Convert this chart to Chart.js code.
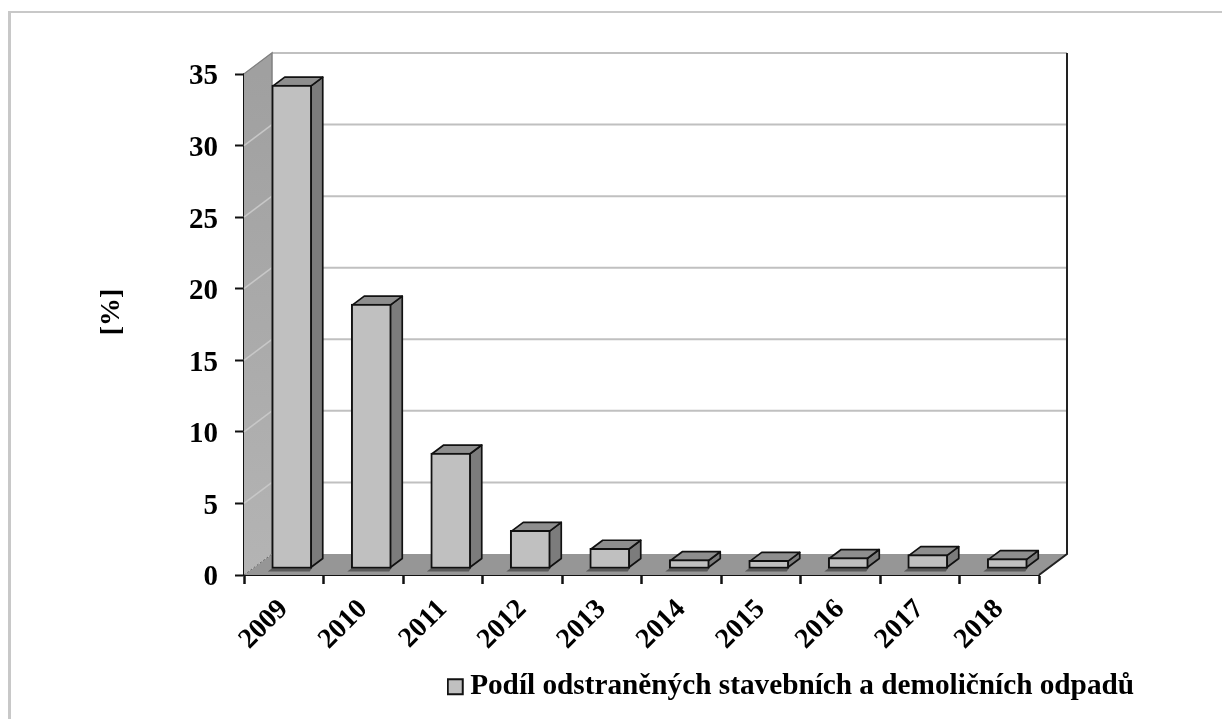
<!DOCTYPE html>
<html><head><meta charset="utf-8">
<style>
html,body{margin:0;padding:0;background:#fff;overflow:hidden}
#wrap{position:absolute;left:0;top:0;width:1222px;height:719px;overflow:hidden}
#frameT{position:absolute;left:8px;top:11px;width:1214px;height:2px;background:#c8c8c8}
#frameL{position:absolute;left:8px;top:11px;width:2.5px;height:708px;background:#c8c8c8}
canvas{position:absolute;left:0;top:0}
</style>
<script src="https://cdn.jsdelivr.net/npm/chart.js@4"></script>
</head><body>
<div id="wrap"><div id="frameT"></div><div id="frameL"></div><canvas id="c" width="1222" height="719"></canvas></div>
<script>
const categories = ['2009','2010','2011','2012','2013','2014','2015','2016','2017','2018'];
const shareValues = [33.8,18.5,8.1,2.7,1.45,0.65,0.6,0.8,1.0,0.72];
const seriesName = 'Podíl odstraněných stavebních a demoličních odpadů';
const axisTitle = '[%]';
const serif = '"Liberation Serif","Times New Roman",serif';

const WALL = {dx:28, dy:21};
const BAR = {dx:12, dy:9, sx:8, sy:6};

function poly(ctx, pts, fill, stroke, lw){
  ctx.beginPath();
  pts.forEach((p,i)=> i?ctx.lineTo(p[0],p[1]):ctx.moveTo(p[0],p[1]));
  ctx.closePath();
  if(fill){ctx.fillStyle=fill;ctx.fill();}
  if(stroke){ctx.strokeStyle=stroke;ctx.lineWidth=lw||1;ctx.lineJoin='round';ctx.stroke();}
}

const chart3d = {
  id:'chart3d',
  afterLayout(chart){
    const l = chart.legend;
    l.left = 447; l.right = 1200; l.top = 664; l.bottom = 718;
  },
  beforeDraw(chart){
    chart.scales.y.getLabelItems().forEach(it=>{
      if(!it._shifted){ it.options.translation[1]+=3; it._shifted=true; }
    });
  },
  beforeDatasetsDraw(chart){
    const {ctx, chartArea:a, scales:{y}} = chart;
    const L=a.left,R=a.right,B=y.getPixelForValue(0),T=y.getPixelForValue(y.max);
    const {dx,dy}=WALL;
    ctx.save();
    poly(ctx,[[L,B],[R,B],[R+dx,B-dy],[L+dx,B-dy]],'#969696');
    const g=ctx.createLinearGradient(0,T,0,B);
    g.addColorStop(0,'#a0a0a0');g.addColorStop(1,'#b4b4b4');
    poly(ctx,[[L,B],[L,T],[L+dx,T-dy],[L+dx,B-dy]],g);
    y.ticks.forEach(t=>{
      const py=y.getPixelForValue(t.value);
      if(t.value>0){
        ctx.strokeStyle='#c8c8c8';ctx.lineWidth=1.5;
        ctx.beginPath();ctx.moveTo(L,py);ctx.lineTo(L+dx,py-dy);ctx.stroke();
        ctx.strokeStyle='#c0c0c0';ctx.lineWidth=2;
        ctx.beginPath();ctx.moveTo(L+dx,py-dy);ctx.lineTo(R+dx,py-dy);ctx.stroke();
      }
    });
    ctx.strokeStyle='#808080';ctx.lineWidth=1.5;
    ctx.beginPath();ctx.moveTo(L,T);ctx.lineTo(L+dx,T-dy);ctx.lineTo(L+dx,B-dy);ctx.stroke();
    ctx.setLineDash([2,2]);ctx.strokeStyle='#666';ctx.lineWidth=1;
    ctx.beginPath();ctx.moveTo(L,B);ctx.lineTo(L+dx,B-dy);ctx.stroke();
    ctx.setLineDash([]);
    ctx.strokeStyle='#222';ctx.lineWidth=2;
    ctx.beginPath();ctx.moveTo(R,B);ctx.lineTo(R+dx,B-dy);ctx.lineTo(R+dx,T-dy);ctx.stroke();
    ctx.restore();
  },
  beforeDatasetDraw(chart,args){
    const ctx=chart.ctx, meta=args.meta;
    ctx.save();
    meta.data.forEach(b=>{
      const x0=b.x-b.width/2+BAR.sx, x1=b.x+b.width/2+BAR.sx;
      const t=b.y-BAR.sy, base=b.base-BAR.sy;
      const {dx,dy}=BAR;
      poly(ctx,[[x0,base],[x1,base],[x1-2,base+3],[x0-4,base+3]],'#595959');
      poly(ctx,[[x1-1,t+1],[x1-1+dx,t+1-dy],[x1-1+dx,base-1-dy],[x1-1,base-1]],'#7c7c7c','#111',1.7);
      poly(ctx,[[x0+1,t+1],[x0+1+dx,t+1-dy],[x1-1+dx,t+1-dy],[x1-1,t+1]],'#8e8e8e','#111',1.7);
    });
    ctx.translate(BAR.sx,-BAR.sy);
  },
  afterDatasetDraw(chart){ chart.ctx.restore(); },
  afterDraw(chart){
    const ctx=chart.ctx;
    ctx.save();
    ctx.fillStyle='#000';
    ctx.font='bold 28px '+serif;
    ctx.translate(112,312);ctx.rotate(-Math.PI/2);
    ctx.textAlign='center';ctx.textBaseline='middle';
    ctx.fillText(axisTitle,0,0);
    ctx.restore();
  }
};

new Chart(document.getElementById('c'),{
  type:'bar',
  plugins:[chart3d],
  data:{labels:categories,datasets:[{
    label:seriesName,data:shareValues,
    backgroundColor:'#c0c0c0',borderColor:'#111',borderWidth:2,borderSkipped:false,
    barThickness:40
  }]},
  options:{
    responsive:false,animation:false,devicePixelRatio:1,
    layout:{padding:{left:100,right:183,top:74,bottom:0}},
    plugins:{
      tooltip:{enabled:false},
      title:{display:false},
      legend:{
        display:true,position:'chartArea',align:'start',
        labels:{
          usePointStyle:true,pointStyle:'rect',boxWidth:0.5,boxHeight:15,padding:8,
          color:'#000',font:{family:serif,weight:'bold',size:29.25}
        }
      }
    },
    scales:{
      x:{
        afterFit(s){s.height=144;},
        border:{color:'#111',width:2},
        grid:{drawOnChartArea:false,drawTicks:true,tickLength:9,tickColor:'#111',tickWidth:2.5,offset:true},
        ticks:{color:'#000',maxRotation:45,minRotation:45,padding:9,autoSkip:false,font:{family:serif,weight:'bold',size:28}}
      },
      y:{
        min:0,max:35,
        afterFit(s){s.width=144;},
        border:{color:'#111',width:2},
        grid:{drawOnChartArea:false,drawTicks:true,tickLength:9,tickColor:'#111',tickWidth:2},
        ticks:{color:'#000',stepSize:5,padding:17,font:{family:serif,weight:'bold',size:29}}
      }
    }
  }
});
</script>
</body></html>
